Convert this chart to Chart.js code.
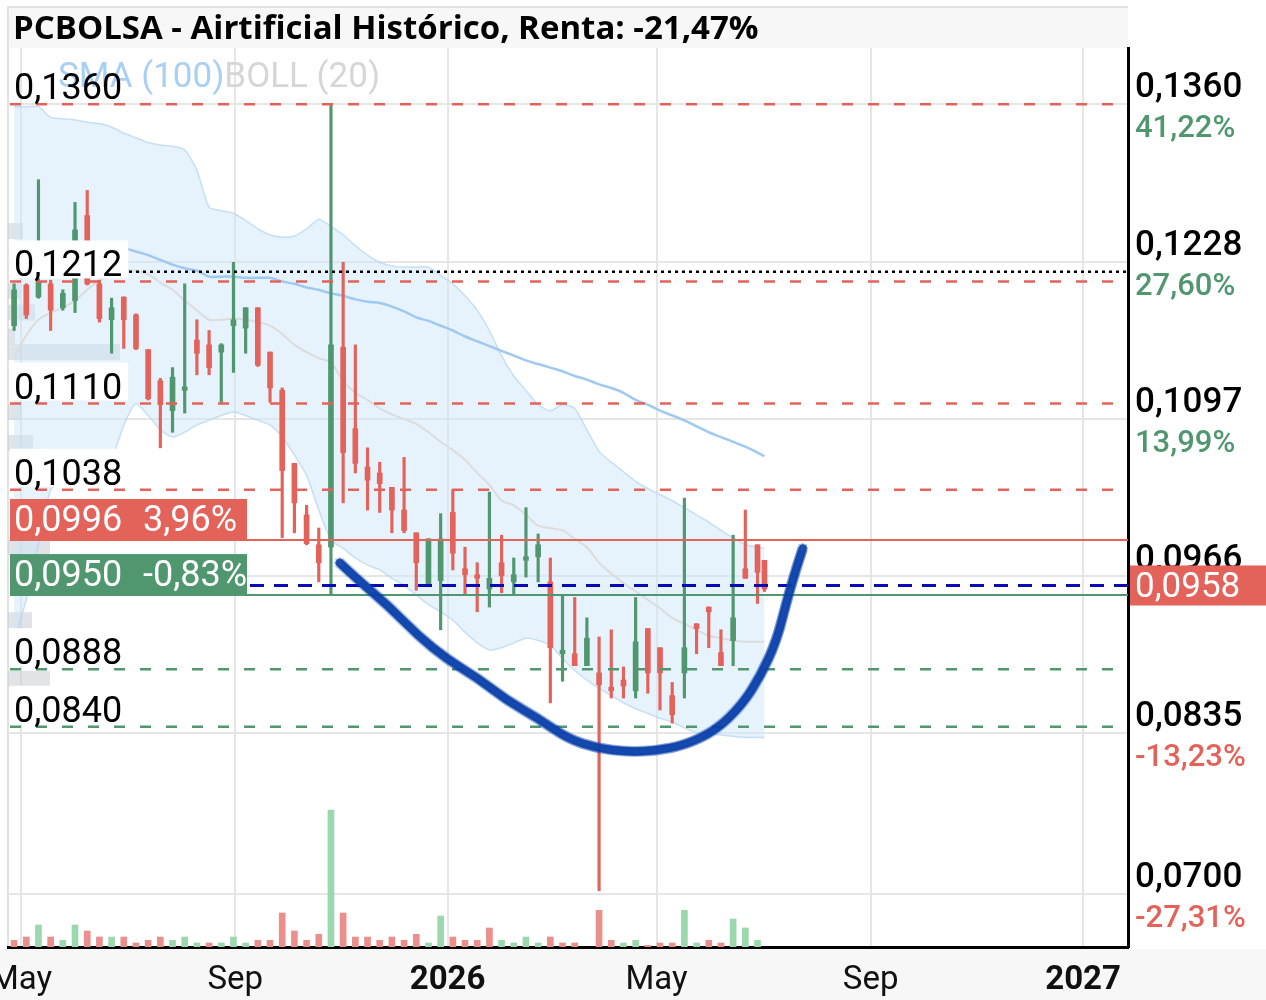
<!DOCTYPE html>
<html>
<head>
<meta charset="utf-8">
<script src="https://cdn.jsdelivr.net/npm/chart.js@4.4.1/dist/chart.umd.min.js"></script>
<style>
  html, body { margin: 0; padding: 0; background: #fff; }
  #wrap { width: 1266px; height: 1000px; }
</style>
</head>
<body>
<div id="wrap"><canvas id="chart" width="1266" height="1000"></canvas></div>
<script>
// weekly candles, the last one is the running week
const firstWeek = '2025-04-27';
const lastDate = '2026-07-02';

const opens = [0.1175,0.1209,0.1199,0.1210,0.1190,0.1196,0.1267,0.1210,0.1180,0.1199,
  0.1184,0.1155,0.1129,0.1104,0.1121,0.1163,0.1159,0.1153,0.1175,0.1173,
  0.1190,0.1153,0.1121,0.1060,0.1017,0.0992,0.0990,0.1157,0.1089,0.1057,
  0.1052,0.1040,0.1021,0.1002,0.0957,0.0962,0.1019,0.0972,0.0967,0.0955,
  0.0977,0.0961,0.0979,0.0982,0.0961,0.0901,0.0901,0.0891,0.0885,0.0873,
  0.0879,0.0870,0.0922,0.0906,0.0866,0.0885,0.0926,0.0940,0.0902,0.0912,
  0.0972,0.0992,0.0979];
const highs = [0.1210,0.1210,0.1297,0.1213,0.1205,0.1278,0.1288,0.1213,0.1198,0.1199,
  0.1185,0.1155,0.1131,0.1140,0.1210,0.1180,0.1171,0.1160,0.1228,0.1190,
  0.1190,0.1153,0.1123,0.1060,0.1025,0.1006,0.1360,0.1228,0.1159,0.1073,
  0.1061,0.1040,0.1065,0.1002,0.0997,0.1018,0.1038,0.0990,0.0977,0.1036,
  0.1000,0.0981,0.1023,0.1001,0.0981,0.0950,0.0948,0.0931,0.0915,0.0921,
  0.0890,0.0948,0.0922,0.0906,0.0877,0.1031,0.0926,0.0940,0.0921,0.1000,
  0.1021,0.0992,0.0979];
const lows = [0.1171,0.1181,0.1198,0.1171,0.1188,0.1186,0.1209,0.1178,0.1152,0.1156,
  0.1155,0.1113,0.1073,0.1086,0.1102,0.1134,0.1134,0.1111,0.1136,0.1152,
  0.1141,0.1111,0.0998,0.1002,0.0992,0.0961,0.0951,0.1027,0.1052,0.1021,
  0.1019,0.1002,0.1002,0.0954,0.0957,0.0921,0.0971,0.0951,0.0936,0.0940,
  0.0952,0.0951,0.0965,0.0961,0.0860,0.0878,0.0891,0.0891,0.0703,0.0864,
  0.0864,0.0864,0.0868,0.0854,0.0843,0.0864,0.0901,0.0906,0.0891,0.0891,
  0.0964,0.0943,0.0953];
const closes = [0.1205,0.1184,0.1212,0.1188,0.1202,0.1255,0.1210,0.1181,0.1190,0.1180,
  0.1156,0.1114,0.1109,0.1132,0.1124,0.1152,0.1140,0.1159,0.1180,0.1190,
  0.1142,0.1123,0.1054,0.1027,0.0993,0.0977,0.1159,0.1069,0.1060,0.1046,
  0.1043,0.1021,0.1004,0.0977,0.0997,0.0997,0.0985,0.0967,0.0964,0.0964,
  0.0966,0.0967,0.0982,0.0992,0.0906,0.0904,0.0891,0.0914,0.0875,0.0870,
  0.0874,0.0911,0.0885,0.0885,0.0850,0.0906,0.0922,0.0936,0.0891,0.0931,
  0.0964,0.0969,0.0955];

const volumes = [20,30,66,30,20,66,48,30,30,30,
  12,20,30,20,30,12,12,12,30,12,
  20,20,102,48,20,38,411,102,30,30,
  20,30,20,38,12,93,30,20,20,57,
  20,12,30,12,30,12,12,null,110,20,
  12,20,5,12,12,110,12,20,12,84,
  57,20,null];
const volumeUp = [0,0,1,0,1,1,0,0,1,0, 0,0,0,1,1,1,0,1,1,1, 0,0,0,0,0,0,1,0,0,0,
  0,0,0,0,1,1,0,0,0,0, 1,1,1,1,0,0,0,0,0,0, 1,1,0,0,0,1,1,0,0,1, 1,1,0];

const sma100 = [null,null,null,null,null,null,null,null,null,
  0.1240,0.1237,0.1234,0.1230,0.1226,0.1223,0.1221,0.1216,0.1216,0.1216,
  0.1215,0.1215,0.1215,0.1212,0.1210,0.1207,0.1205,0.1202,0.1200,0.1197,
  0.1195,0.1194,0.1191,0.1187,0.1182,0.1179,0.1175,0.1171,0.1166,0.1162,
  0.1158,0.1154,0.1150,0.1146,0.1143,0.1140,0.1137,0.1133,0.1130,0.1126,
  0.1123,0.1119,0.1113,0.1109,0.1104,0.1100,0.1096,0.1091,0.1086,0.1082,
  0.1078,0.1074,0.1069,0.1066];
const bollMid = [0.1149,0.1167,0.1180,0.1186,0.1190,0.1196,0.1205,0.1213,0.1217,0.1221,
  0.1221,0.1218,0.1211,0.1205,0.1196,0.1188,0.1180,0.1180,0.1181,0.1180,
  0.1178,0.1175,0.1168,0.1159,0.1153,0.1148,0.1144,0.1129,0.1119,0.1113,
  0.1106,0.1101,0.1097,0.1093,0.1086,0.1078,0.1071,0.1063,0.1052,0.1042,
  0.1029,0.1025,0.1017,0.1008,0.1006,0.1004,0.0997,0.0990,0.0977,0.0968,
  0.0960,0.0953,0.0946,0.0939,0.0931,0.0926,0.0921,0.0916,0.0914,0.0912,
  0.0911,0.0911,0.0911];
const bollUp = [0.1358,0.1358,0.1358,0.1349,0.1348,0.1347,0.1345,0.1344,0.1341,0.1336,
  0.1332,0.1328,0.1326,0.1325,0.1322,0.1305,0.1274,0.1271,0.1269,0.1263,
  0.1256,0.1251,0.1249,0.1250,0.1256,0.1264,0.1258,0.1251,0.1242,0.1234,
  0.1228,0.1225,0.1224,0.1224,0.1224,0.1217,0.1210,0.1200,0.1188,0.1171,
  0.1150,0.1133,0.1121,0.1109,0.1104,0.1109,0.1106,0.1088,0.1070,0.1061,
  0.1053,0.1045,0.1039,0.1034,0.1029,0.1023,0.1017,0.1011,0.1004,0.0998,
  0.0992,0.0990,0.0989];
const bollLow = [0.0912,0.0946,0.0992,0.1038,0.1046,0.1048,0.1049,0.1053,0.1063,0.1092,
  0.1110,0.1100,0.1088,0.1082,0.1086,0.1092,0.1096,0.1100,0.1103,0.1100,
  0.1096,0.1092,0.1082,0.1067,0.1050,0.1021,0.0996,0.0989,0.0981,0.0975,
  0.0971,0.0964,0.0958,0.0950,0.0942,0.0936,0.0929,0.0919,0.0910,0.0904,
  0.0906,0.0910,0.0914,0.0912,0.0908,0.0897,0.0887,0.0879,0.0872,0.0866,
  0.0860,0.0855,0.0851,0.0847,0.0844,0.0839,0.0835,0.0834,0.0833,0.0832,
  0.0831,0.0831,0.0831];

// volume at price (left profile)
const profilePrices = [0.1254,0.1204,0.1186,0.1166,0.1153,0.1103,0.1077,0.0990,0.0929,0.0880];
const profileVolumes = [15,12,27,7,112,14,25,42,24,42];

// levels drawn on the chart
const resistLevels = [0.1360, 0.1212, 0.1110, 0.1038];
const supportLevels = [0.0888, 0.0840];
const targetLevel = 0.0996, targetPct = 3.96;
const stopLevel = 0.0950, stopPct = -0.83;
const lastPrice = 0.0958;
const highMark = 0.1220;

// right axis (the tick next to the price has its % hidden)
const axisTicks = [0.1360, 0.1228, 0.1097, 0.0966, 0.0835, 0.0700];
const axisPcts = [41.22, 27.60, 13.99, null, -13.23, -27.31];
const tickDates = ['2025-05-01','2025-09-01','2026-01-01','2026-05-01','2026-09-01','2027-01-01'];
const tickLabels = ['May','Sep','2026','May','Sep','2027'];

// hand drawn cup
const cupDates = ['2025-10-31','2025-11-11','2025-11-28','2025-12-15','2026-01-01','2026-01-18',
  '2026-02-04','2026-02-22','2026-03-11','2026-03-28','2026-04-14','2026-05-01','2026-05-18',
  '2026-06-04','2026-06-19','2026-06-30','2026-07-09','2026-07-15','2026-07-20','2026-07-24'];
const cupPrices = [0.0977,0.0962,0.0941,0.0916,0.0896,0.0881,0.0862,0.0847,0.0830,0.0822,
  0.0819,0.0820,0.0825,0.0837,0.0858,0.0883,0.0912,0.0946,0.0971,0.0989];

const title = 'PCBOLSA - Airtificial Histórico, Renta: -21,47%';

const GREEN = '#50976f', RED = '#e3625a';

function toDay(s) {
  const p = s.split('-').map(Number);
  return (Date.UTC(p[0], p[1] - 1, p[2]) - Date.UTC(2025, 0, 1)) / 86400000;
}
const days = [];
for (let i = 0; i < opens.length - 1; i++) days.push(toDay(firstWeek) + 7 * i);
days.push(toDay(lastDate));

const up = opens.map((o, i) => closes[i] >= o);
const fmt = v => v.toFixed(4).replace('.', ',');
const fmtPct = p => p.toFixed(2).replace('.', ',') + '%';

function hline(ctx, y, x0, x1, color, width, dash) {
  ctx.save();
  ctx.strokeStyle = color;
  ctx.lineWidth = width;
  ctx.setLineDash(dash || []);
  ctx.beginPath();
  ctx.moveTo(x0, y);
  ctx.lineTo(x1, y);
  ctx.stroke();
  ctx.restore();
}

const overlay = {
  id: 'overlay',
  beforeDraw(chart) {
    const ctx = chart.ctx;
    ctx.save();
    ctx.fillStyle = '#fff';
    ctx.fillRect(0, 0, chart.width, chart.height);
    ctx.fillStyle = '#f7f7f7';
    ctx.fillRect(8, 8, chart.chartArea.right - 8, 40);
    ctx.fillRect(0, chart.chartArea.bottom + 2, chart.width, chart.height);
    ctx.strokeStyle = '#e2e2e2';
    ctx.lineWidth = 2;
    ctx.beginPath();
    ctx.moveTo(8, chart.chartArea.bottom);
    ctx.lineTo(8, 7);
    ctx.lineTo(chart.chartArea.right, 7);
    ctx.stroke();
    ctx.restore();
  },
  beforeDatasetsDraw(chart) {
    const ctx = chart.ctx, y = chart.scales.y, left = chart.chartArea.left;
    ctx.save();
    ctx.fillStyle = 'rgba(200,205,212,0.55)';
    profilePrices.forEach((p, i) => {
      const py = y.getPixelForValue(p);
      ctx.fillRect(left, py - 8, profileVolumes[i], 16);
    });
    ctx.restore();
  },
  afterDatasetsDraw(chart) {
    const ctx = chart.ctx, ys = chart.scales.y, xs = chart.scales.x, a = chart.chartArea;
    const L = a.left + 2, R = a.right;

    resistLevels.forEach(v => hline(ctx, ys.getPixelForValue(v), L, R, RED, 2.5, [11, 15]));
    supportLevels.forEach(v => hline(ctx, ys.getPixelForValue(v), L, R, GREEN, 2.5, [11, 15]));
    hline(ctx, ys.getPixelForValue(highMark), L, R, '#000', 2.5, [3, 4]);
    hline(ctx, ys.getPixelForValue(targetLevel), L, R, RED, 2);
    hline(ctx, ys.getPixelForValue(stopLevel), L, R, GREEN, 2);
    hline(ctx, ys.getPixelForValue(lastPrice), L, R, '#0a0ab4', 3, [14, 10]);

    // legend of indicators
    ctx.save();
    ctx.font = '35px Roboto';
    ctx.textBaseline = 'alphabetic';
    ctx.fillStyle = '#a9d0f4';
    ctx.fillText('SMA (100)', 58, 87);
    const w = ctx.measureText('SMA (100)').width;
    ctx.fillStyle = '#d6d6d6';
    ctx.fillText('BOLL (20)', 58 + w, 87);
    ctx.restore();

    // left price labels
    ctx.save();
    ctx.font = '36px Roboto';
    ctx.textBaseline = 'alphabetic';
    resistLevels.concat(supportLevels).forEach(v => {
      const py = ys.getPixelForValue(v), t = fmt(v);
      const tw = ctx.measureText(t).width;
      if (v !== resistLevels[0]) {
        ctx.fillStyle = '#fff';
        ctx.fillRect(10, py - 41, tw + 10, 38);
      }
      ctx.fillStyle = '#000';
      ctx.fillText(t, 14, py - 5);
    });
    [[targetLevel, targetPct, RED], [stopLevel, stopPct, GREEN]].forEach(([v, p, c]) => {
      const py = ys.getPixelForValue(v);
      ctx.fillStyle = c;
      ctx.fillRect(10, py - 41, 237, 40);
      ctx.fillStyle = '#fff';
      ctx.fillText(fmt(v), 14, py - 9);
      ctx.fillText(fmtPct(p), 143, py - 9);
    });
    ctx.restore();

    // cup drawn by hand
    const pts = cupDates.map((d, i) => [xs.getPixelForValue(toDay(d)), ys.getPixelForValue(cupPrices[i])]);
    const path = (dx, dy) => {
      ctx.beginPath();
      ctx.moveTo(pts[0][0] + dx, pts[0][1] + dy);
      for (let i = 1; i < pts.length - 1; i++) {
        const mx = (pts[i][0] + pts[i + 1][0]) / 2, my = (pts[i][1] + pts[i + 1][1]) / 2;
        ctx.quadraticCurveTo(pts[i][0] + dx, pts[i][1] + dy, mx + dx, my + dy);
      }
      const lp = pts[pts.length - 1];
      ctx.lineTo(lp[0] + dx, lp[1] + dy);
    };
    ctx.save();
    ctx.lineCap = 'round';
    ctx.lineJoin = 'round';
    ctx.strokeStyle = 'rgba(12,68,172,0.35)';
    ctx.lineWidth = 3;
    [[-3, -3], [3, 3], [-3, 3], [3, -3], [0, 4], [0, -4], [4, 0], [-4, 0]].forEach(([dx, dy]) => { path(dx, dy); ctx.stroke(); });
    path(0, 0);
    ctx.strokeStyle = 'rgba(8,62,168,0.88)';
    ctx.lineWidth = 8;
    ctx.stroke();
    ctx.restore();
  },
  afterDraw(chart) {
    const ctx = chart.ctx, ys = chart.scales.y, a = chart.chartArea;
    ctx.save();
    ctx.textBaseline = 'alphabetic';
    axisTicks.forEach((v, i) => {
      const py = ys.getPixelForValue(v);
      ctx.font = '500 35px Roboto';
      ctx.fillStyle = '#000';
      ctx.fillText(fmt(v), a.right + 7, py - 7);
      if (axisPcts[i] === null) return;
      ctx.font = '500 31px Roboto';
      ctx.fillStyle = axisPcts[i] >= 0 ? GREEN : RED;
      ctx.fillText(fmtPct(axisPcts[i]), a.right + 7, py + 33);
    });
    const py = ys.getPixelForValue(lastPrice);
    ctx.fillStyle = RED;
    ctx.fillRect(a.right + 2, py - 20, chart.width - a.right - 2, 40);
    ctx.fillStyle = '#fff';
    ctx.font = '35px Roboto';
    ctx.fillText(fmt(lastPrice), a.right + 7, py + 12);

    ctx.fillStyle = '#000';
    ctx.font = 'bold 33px "Open Sans"';
    ctx.fillText(title, 13, 39);
    ctx.restore();
  }
};

const dataset = (arr) => days.map((d, i) => ({ x: d, y: arr[i] }));

new Chart(document.getElementById('chart'), {
  type: 'bar',
  data: {
    datasets: [
      {
        type: 'bar', label: 'wick', order: 2, grouped: false, barThickness: 2.5,
        data: days.map((d, i) => ({ x: d, y: [lows[i], highs[i]] })),
        backgroundColor: up.map(u => u ? GREEN : RED)
      },
      {
        type: 'bar', label: 'body', order: 1, grouped: false, barThickness: 5, minBarLength: 2,
        data: days.map((d, i) => ({ x: d, y: [opens[i], closes[i]] })),
        backgroundColor: up.map(u => u ? GREEN : RED)
      },
      {
        type: 'bar', label: 'volume', order: 3, grouped: false, barThickness: 6, yAxisID: 'yv',
        data: dataset(volumes),
        backgroundColor: volumeUp.map(u => u ? '#9cd8ae' : '#ea8f8b')
      },
      {
        type: 'line', label: 'SMA (100)', order: 4, data: dataset(sma100),
        borderColor: '#9fc9f1', borderWidth: 2.5, pointRadius: 0, tension: 0.3
      },
      {
        type: 'line', label: 'mid', order: 5, data: dataset(bollMid),
        borderColor: '#dcdcdc', borderWidth: 2, pointRadius: 0, tension: 0.3
      },
      {
        type: 'line', label: 'up', order: 6, data: dataset(bollUp),
        borderColor: 'rgba(180,212,242,0.7)', borderWidth: 1.5, pointRadius: 0, tension: 0.2
      },
      {
        type: 'line', label: 'low', order: 7, data: dataset(bollLow),
        borderColor: 'rgba(180,212,242,0.7)', borderWidth: 1.5, pointRadius: 0, tension: 0.2,
        fill: '-1', backgroundColor: 'rgba(206,229,250,0.5)'
      }
    ]
  },
  options: {
    responsive: false,
    animation: false,
    devicePixelRatio: 1,
    layout: { padding: { left: 8, top: 48, right: 0, bottom: 0 } },
    plugins: { legend: { display: false }, tooltip: { enabled: false } },
    scales: {
      x: {
        type: 'linear', min: 112.5, max: 755.8, offset: false,
        grid: { color: '#e6e6e6', lineWidth: 2, drawTicks: false, offset: false },
        border: { color: '#000', width: 3 },
        afterBuildTicks: s => { s.ticks = tickDates.map(d => ({ value: toDay(d) })); },
        afterFit: s => { s.height = 53; s.paddingLeft = 0; s.paddingRight = 0; },
        ticks: {
          autoSkip: false, maxRotation: 0, padding: 14, color: '#111',
          callback: (v, i) => tickLabels[i],
          font: c => ({ family: 'Roboto', size: 33, weight: /^\d/.test(tickLabels[c.index]) ? 'bold' : 'normal' })
        }
      },
      y: {
        type: 'linear', position: 'right', min: 0.0656, max: 0.1407,
        grid: { color: '#e6e6e6', lineWidth: 2, drawTicks: false },
        border: { color: '#000', width: 3 },
        afterBuildTicks: s => { s.ticks = axisTicks.map(v => ({ value: v })); },
        afterFit: s => { s.width = 138; },
        ticks: { display: false }
      },
      yv: {
        type: 'linear', display: false, min: 0, max: 2697
      }
    }
  },
  plugins: [overlay]
});
</script>
</body>
</html>
